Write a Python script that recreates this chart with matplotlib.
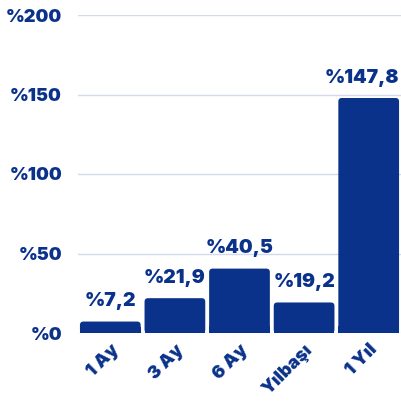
import matplotlib.pyplot as plt
from matplotlib.patches import FancyBboxPatch, Rectangle

categories = ["1 Ay", "3 Ay", "6 Ay", "Yılbaşı", "1 Yıl"]
values = [7.2, 21.9, 40.5, 19.2, 147.8]
yticks = [0, 50, 100, 150, 200]

navy = "#0b328a"
grid = "#d3daee"

plt.rcParams["font.family"] = ["Inter", "DejaVu Sans"]

fig = plt.figure(figsize=(4.01, 4.01), dpi=100)
ax = fig.add_axes([78 / 401, 68 / 401, 323 / 401, 318 / 401])

x = list(range(len(categories)))
bars = ax.bar(x, values, width=0.94, color=navy, zorder=2)
ax.set_xlim(-0.5, len(categories) - 0.5)
ax.set_ylim(0, 200)

# round top corners of the bars
x_per_px = len(categories) / 323
y_per_px = 200 / 318
r = 3.5 * x_per_px
aspect = y_per_px / x_per_px
labels = []
for b in bars:
    bx, by = b.get_x(), b.get_y()
    bw, bh = b.get_width(), b.get_height()
    b.set_visible(False)
    ax.add_patch(FancyBboxPatch((bx, by), bw, bh,
                                boxstyle=f"round,pad=0,rounding_size={r}",
                                mutation_aspect=aspect,
                                fc=navy, ec="none", zorder=2))
    # square off the bottom corners
    ax.add_patch(Rectangle((bx, by), bw, min(bh / 2, 2 * r * aspect),
                           fc=navy, ec="none", zorder=2))
    t = ax.annotate(f"%{bh:.1f}".replace(".", ","), (bx + bw / 2, bh),
                    xytext=(0, 8), textcoords="offset points",
                    ha="center", va="bottom", fontsize=14, fontweight="black",
                    color=navy, annotation_clip=False)
    labels.append(t)

ax.set_yticks(yticks)
ax.set_yticklabels([f"%{v}" for v in yticks])
ax.set_xticks(x)
ax.set_xticklabels(categories, rotation=45, ha="right", rotation_mode="anchor")
ax.tick_params(axis="y", length=0, pad=11.5, labelsize=13, labelcolor=navy)
ax.tick_params(axis="x", length=0, pad=6, labelsize=13, labelcolor=navy)
for lab in ax.get_xticklabels() + ax.get_yticklabels():
    lab.set_fontweight("black")

ax.grid(axis="y", color=grid, linewidth=1, zorder=0)
for s in ax.spines.values():
    s.set_visible(False)

# keep value labels inside the figure
fig.canvas.draw()
rend = fig.canvas.get_renderer()
W = fig.bbox.width
for t in labels:
    bb = t.get_window_extent(rend)
    if bb.x1 > W - 2:
        shift = bb.x1 - (W - 2)
        t.set_position((-shift * 72 / fig.dpi, 8))

fig.savefig("out.png", dpi=100)
